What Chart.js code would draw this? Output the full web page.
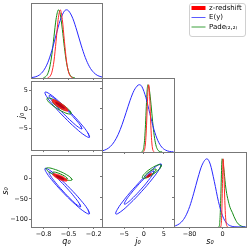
<!DOCTYPE html>
<html>
<head>
<meta charset="utf-8">
<script src="https://cdn.jsdelivr.net/npm/chart.js@4/dist/chart.umd.min.js"></script>
<style>
html, body { margin: 0; padding: 0; background: #fff; }
#wrap { position: relative; width: 249px; height: 249px; overflow: hidden; }
#wrap canvas { position: absolute; }
#legbox { position: absolute; left: 189px; top: 3px; width: 57px; height: 34px; box-sizing: border-box; border: 1px solid #d0d0d0; border-radius: 3px; }
</style>
</head>
<body>
<div id="wrap"><div id="legbox"></div></div>
<script>
// axis limits and ticks
var qRange = [-0.95, -0.10];
var jRange = [-10.6, 7.6];
var sRange = [-118, 57];
var dRange = [0, 1.1];
var qTicks = [-0.8, -0.5, -0.2], qTickLabels = ['\u22120.8', '\u22120.5', '\u22120.2'];
var jTicks = [-5, 0, 5], jTickLabels = ['\u22125', '0', '5'];
var sTicksX = [-80, 0], sTickLabelsX = ['\u221280', '0'];
var sTicksY = [-100, -50, 0], sTickLabelsY = ['\u2212100', '\u221250', '0'];

var names = ['z-redshift', 'E(y)', 'Pade\u208D\u2082,\u2082\u208E'];
var colors = ['#ff0000', 'rgb(90,90,255)', 'rgb(60,160,60)'];

// 1D marginals (normalised to peak 1)
var qRedX = [-0.75, -0.725, -0.7, -0.675, -0.65, -0.625, -0.6, -0.575, -0.55, -0.525, -0.5, -0.475, -0.45];
var qRedY = [0.004, 0.021, 0.085, 0.249, 0.539, 0.857, 1.0, 0.857, 0.539, 0.249, 0.085, 0.021, 0.004];
var qBlueX = [-0.95, -0.9, -0.85, -0.8, -0.75, -0.7, -0.65, -0.6, -0.55, -0.525, -0.5, -0.45, -0.4, -0.35, -0.3, -0.25, -0.2, -0.15, -0.1];
var qBlueY = [0.005, 0.016, 0.044, 0.107, 0.223, 0.404, 0.63, 0.847, 0.982, 1.0, 0.985, 0.875, 0.69, 0.483, 0.3, 0.165, 0.081, 0.035, 0.014];
var qGreenX = [-0.8, -0.775, -0.75, -0.725, -0.7, -0.675, -0.65, -0.62, -0.6, -0.575, -0.55, -0.525, -0.5, -0.475, -0.45, -0.425];
var qGreenY = [0.005, 0.019, 0.061, 0.162, 0.347, 0.607, 0.862, 1.0, 0.936, 0.716, 0.445, 0.225, 0.092, 0.031, 0.009, 0.002];

var jRedX = [-0.2, 0, 0.2, 0.4, 0.6, 0.8, 1.0, 1.2, 1.4, 1.6, 1.8, 2.0, 2.2, 2.4, 2.6];
var jRedY = [0.002, 0.011, 0.044, 0.135, 0.325, 0.607, 0.882, 1.0, 0.882, 0.607, 0.325, 0.135, 0.044, 0.011, 0.002];
var jBlueX = [-10.5, -9.5, -8.5, -7.5, -6.5, -5.5, -4.5, -3.5, -2.5, -1.5, -1.1, -0.5, 0.5, 1.5, 2.5, 3.5, 4.5, 5.5, 6.5, 7.5];
var jBlueY = [0.017, 0.039, 0.081, 0.153, 0.262, 0.411, 0.588, 0.768, 0.914, 0.993, 1.0, 0.97, 0.808, 0.57, 0.34, 0.172, 0.073, 0.027, 0.008, 0.002];
var jGreenX = [-0.6, -0.4, -0.2, 0, 0.2, 0.4, 0.6, 0.8, 1.0, 1.4, 1.8, 2.2, 2.6, 3.0, 3.4, 3.8, 4.2, 4.6];
var jGreenY = [0.002, 0.008, 0.028, 0.085, 0.206, 0.411, 0.674, 0.906, 1.0, 0.915, 0.701, 0.45, 0.242, 0.109, 0.041, 0.013, 0.003, 0.001];

var sRedX = [-6, -4, -2, 0, 1.5, 3, 5, 7, 9, 11, 13];
var sRedY = [0, 0.01, 0.17, 0.7, 1.0, 0.84, 0.47, 0.18, 0.05, 0.01, 0];
var sBlueX = [-118, -110, -100, -90, -80, -70, -60, -50, -38, -30, -20, -10, 0, 10, 20, 30, 40, 57];
var sBlueY = [0.012, 0.029, 0.072, 0.157, 0.298, 0.496, 0.718, 0.906, 1.0, 0.923, 0.667, 0.375, 0.164, 0.056, 0.015, 0.003, 0.0005, 0];
var sGreenX = [-10, -8, -6, -4, -2, -1, 1, 3, 5, 7, 9, 11, 14, 17, 20, 24, 28, 32, 36, 40, 45, 50, 55];
var sGreenY = [0, 0.01, 0.14, 0.49, 0.92, 1.0, 0.96, 0.86, 0.74, 0.62, 0.53, 0.46, 0.38, 0.31, 0.26, 0.21, 0.15, 0.1, 0.06, 0.035, 0.015, 0.005, 0.001];

// 2D contours (68% and 95%)
var cQJBlue95 = [[-0.2505, -7.234], [-0.2684, -6.106], [-0.3526, -3.689], [-0.4807, -0.630], [-0.6182, 2.251], [-0.7282, 4.182], [-0.7815, 4.646], [-0.7636, 3.518], [-0.6794, 1.101], [-0.5513, -1.958], [-0.4138, -4.839], [-0.3038, -6.770]];
var cQJBlue68 = [[-0.3411, -5.014], [-0.3562, -4.220], [-0.4199, -2.464], [-0.5149, -0.216], [-0.6159, 1.920], [-0.6956, 3.373], [-0.7329, 3.752], [-0.7178, 2.958], [-0.6541, 1.202], [-0.5591, -1.046], [-0.4581, -3.182], [-0.3784, -4.635]];
var cQJGreen95 = [[-0.471, -1.0], [-0.4792, -0.397], [-0.5236, 0.578], [-0.5925, 1.663], [-0.6674, 2.568], [-0.728, 3.05], [-0.7584, 2.98], [-0.7502, 2.377], [-0.7058, 1.402], [-0.6369, 0.317], [-0.562, -0.588], [-0.5014, -1.07]];
var cQJGreen68 = [[-0.5242, -0.08], [-0.5288, 0.281], [-0.5548, 0.858], [-0.5953, 1.498], [-0.6394, 2.028], [-0.6752, 2.307], [-0.6932, 2.26], [-0.6886, 1.899], [-0.6626, 1.322], [-0.6221, 0.682], [-0.578, 0.152], [-0.5422, -0.127]];
var cQJRed95 = [[-0.5069, -0.314], [-0.5107, 0.129], [-0.5392, 0.848], [-0.5847, 1.651], [-0.635, 2.322], [-0.6767, 2.683], [-0.6985, 2.634], [-0.6947, 2.192], [-0.6662, 1.472], [-0.6207, 0.669], [-0.5704, -0.002], [-0.5287, -0.363]];
var cQJRed68 = [[-0.55, 0.369], [-0.5524, 0.606], [-0.5682, 0.996], [-0.5934, 1.436], [-0.621, 1.808], [-0.6436, 2.01], [-0.6554, 1.991], [-0.653, 1.754], [-0.6372, 1.364], [-0.612, 0.924], [-0.5844, 0.552], [-0.5618, 0.35]];

var cQSBlue95 = [[-0.2511, -86.14], [-0.2692, -75.56], [-0.3535, -53.03], [-0.4815, -24.58], [-0.6189, 2.155], [-0.7288, 20.02], [-0.7819, 24.22], [-0.7638, 13.64], [-0.6795, -8.895], [-0.5515, -37.34], [-0.4141, -64.08], [-0.3042, -81.94]];
var cQSBlue68 = [[-0.3564, -69.0], [-0.3704, -61.45], [-0.4312, -44.67], [-0.5225, -23.15], [-0.6198, -2.666], [-0.697, 11.3], [-0.7336, 15.0], [-0.7196, 7.445], [-0.6588, -9.334], [-0.5675, -30.85], [-0.4702, -51.33], [-0.393, -65.3]];
var cQSGreen95 = [[-0.4592, -3.64], [-0.4725, 1.408], [-0.5239, 8.854], [-0.5997, 16.7], [-0.6795, 22.83], [-0.7419, 25.63], [-0.7702, 24.32], [-0.7569, 19.27], [-0.7055, 11.83], [-0.6298, 3.98], [-0.5499, -2.154], [-0.4875, -4.948]];
var cQSGreen68 = [[-0.5157, -0.98], [-0.5231, 1.868], [-0.5518, 6.048], [-0.5942, 10.44], [-0.6388, 13.87], [-0.6737, 15.41], [-0.6897, 14.66], [-0.6823, 11.81], [-0.6536, 7.632], [-0.6112, 3.24], [-0.5666, -0.188], [-0.5317, -1.732]];
var cQSRed95 = [[-0.5168, -5.83], [-0.5226, -2.444], [-0.55, 2.186], [-0.5916, 6.82], [-0.6362, 10.22], [-0.672, 11.46], [-0.6892, 10.23], [-0.6834, 6.844], [-0.656, 2.214], [-0.6144, -2.42], [-0.5698, -5.816], [-0.534, -7.064]];
var cQSRed68 = [[-0.5545, -2.515], [-0.5579, -0.65], [-0.5733, 1.924], [-0.5968, 4.52], [-0.6219, 6.44], [-0.6419, 7.17], [-0.6515, 6.515], [-0.6481, 4.65], [-0.6327, 2.076], [-0.6092, -0.52], [-0.5841, -2.44], [-0.5641, -3.17]];

var cJSBlue95 = [[4.366, 29.03], [3.964, 18.05], [2.134, -5.6], [-0.636, -35.62], [-3.602, -63.94], [-5.97, -82.97], [-7.106, -87.63], [-6.704, -76.65], [-4.874, -53.0], [-2.104, -22.98], [0.862, 5.341], [3.23, 24.37]];
var cJSBlue68 = [[2.54, 12.83], [2.27, 5.676], [1.071, -9.964], [-0.737, -29.91], [-2.669, -48.8], [-4.208, -61.58], [-4.94, -64.83], [-4.671, -57.68], [-3.471, -42.04], [-1.663, -22.09], [0.269, -3.196], [1.808, 9.584]];
var cJSGreen95 = [[4.369, 26.67], [4.263, 21.75], [3.55, 14.08], [2.423, 5.72], [1.182, -1.091], [0.159, -4.53], [-0.369, -3.67], [-0.263, 1.25], [0.45, 8.921], [1.577, 17.28], [2.819, 24.09], [3.841, 27.53]];
var cJSGreen68 = [[3.061, 16.73], [2.995, 13.76], [2.56, 9.11], [1.874, 4.031], [1.119, -0.118], [0.499, -2.227], [0.179, -1.728], [0.245, 1.243], [0.68, 5.89], [1.366, 10.97], [2.121, 15.12], [2.741, 17.23]];
var cJSRed95 = [[1.999, 6.9], [1.983, 5.263], [1.785, 2.753], [1.457, 0.04], [1.086, -2.148], [0.774, -3.223], [0.601, -2.9], [0.617, -1.263], [0.815, 1.247], [1.143, 3.96], [1.514, 6.148], [1.826, 7.223]];
var cJSRed68 = [[1.691, 4.744], [1.681, 3.855], [1.568, 2.469], [1.384, 0.957], [1.177, -0.275], [1.003, -0.898], [0.909, -0.744], [0.919, 0.145], [1.032, 1.531], [1.216, 3.043], [1.423, 4.275], [1.597, 4.898]];

Chart.defaults.font.family = '"DejaVu Sans", sans-serif';
Chart.defaults.color = '#000';
var frameColor = '#777';
var blue = 'rgb(40,40,255)', green = 'rgb(20,140,20)', redLine = 'rgb(255,40,40)';
var red95 = 'rgba(255,25,25,0.9)', red68 = 'rgba(175,0,20,0.9)';
var wrap = document.getElementById('wrap');

function pts(xs, ys) {
    return xs.map(function (x, i) { return {x: x, y: ys[i]}; });
}
function ring(c) {
    // close the loop (repeat 2 points so the spline joins smoothly)
    return c.concat([c[0], c[1]]).map(function (p) { return {x: p[0], y: p[1]}; });
}
function line1d(xs, ys, color) {
    return {data: pts(xs, ys), showLine: true, borderColor: color, borderWidth: 1, pointRadius: 0, cubicInterpolationMode: 'monotone', fill: false};
}
function cLine(c, color) {
    return {data: ring(c), showLine: true, borderColor: color, borderWidth: 1, pointRadius: 0, tension: 0.45, fill: false};
}
function cFill(c, color) {
    return {data: ring(c), showLine: true, borderColor: color, backgroundColor: color, borderWidth: 0.5, pointRadius: 0, tension: 0.45, fill: 'shape'};
}

function axis(o) {
    var a = {
        type: 'linear', axis: o.axis, position: o.pos, min: o.range[0], max: o.range[1],
        afterFit: function (s) { if (o.axis === 'x') s.height = o.size; else s.width = o.size; },
        ticks: {display: !!o.labels, autoSkip: false, maxRotation: 0, padding: 1, color: '#111', font: {size: 6.5},
            callback: function (v, i) { return o.labels ? o.labels[i] : ''; }},
        grid: {display: !!o.ticks, drawOnChartArea: false, drawTicks: true, tickLength: 2, color: frameColor, lineWidth: 1},
        border: {display: false},
        title: {display: !!o.title, text: o.title || '', color: '#000', font: {size: 8, style: 'italic'}, padding: o.tpad || 0}
    };
    if (o.ticks) {
        a.afterBuildTicks = function (s) { s.ticks = o.ticks.map(function (v) { return {value: v}; }); };
    }
    return a;
}

var framePlugin = {
    id: 'frame',
    afterDatasetsDraw: function (chart) {
        var a = chart.chartArea, ctx = chart.ctx;
        ctx.save();
        ctx.strokeStyle = frameColor;
        ctx.lineWidth = 1;
        ctx.strokeRect(Math.round(a.left) + 0.5, Math.round(a.top) + 0.5, Math.round(a.right - a.left), Math.round(a.bottom - a.top));
        ctx.restore();
    }
};

function panel(box, scales, datasets) {
    var cv = document.createElement('canvas');
    var w = box.w + box.L + 2, h = box.h + 2 + box.B;
    cv.width = w; cv.height = h;
    cv.style.left = (box.l - box.L) + 'px';
    cv.style.top = (box.t - 2) + 'px';
    cv.style.width = w + 'px';
    cv.style.height = h + 'px';
    wrap.appendChild(cv);
    new Chart(cv, {
        type: 'scatter',
        data: {datasets: datasets},
        options: {
            responsive: false, animation: false, devicePixelRatio: 1, events: [],
            layout: {padding: {top: 2, right: 2, left: 0, bottom: 0}},
            plugins: {legend: {display: false}, tooltip: {enabled: false}},
            scales: scales
        },
        plugins: [framePlugin]
    });
}

// row 0
panel({l: 31, t: 3, w: 71, h: 75, L: 0, B: 3}, {
    x: axis({axis: 'x', pos: 'bottom', range: qRange, ticks: qTicks, size: 3}),
    y: axis({axis: 'y', pos: 'left', range: dRange, size: 0})
}, [line1d(qRedX, qRedY, redLine), line1d(qBlueX, qBlueY, blue), line1d(qGreenX, qGreenY, green)]);

// row 1
panel({l: 31, t: 78, w: 71, h: 74, L: 31, B: 3}, {
    x: axis({axis: 'x', pos: 'bottom', range: qRange, ticks: qTicks, size: 3}),
    y: axis({axis: 'y', pos: 'left', range: jRange, ticks: jTicks, labels: jTickLabels, size: 31, title: 'j\u2080', tpad: {top: 17.5}})
}, [cFill(cQJRed68, red68), cFill(cQJRed95, red95), cLine(cQJGreen68, green), cLine(cQJGreen95, green),
    cLine(cQJBlue68, blue), cLine(cQJBlue95, blue)]);

panel({l: 102, t: 78, w: 72, h: 74, L: 3, B: 3}, {
    x: axis({axis: 'x', pos: 'bottom', range: jRange, ticks: jTicks, size: 3}),
    y: axis({axis: 'y', pos: 'left', range: dRange, size: 0}),
    yt: axis({axis: 'y', pos: 'left', range: jRange, ticks: jTicks, size: 3})
}, [line1d(jRedX, jRedY, redLine), line1d(jBlueX, jBlueY, blue), line1d(jGreenX, jGreenY, green)]);

// row 2
panel({l: 31, t: 152, w: 71, h: 75, L: 31, B: 22}, {
    x: axis({axis: 'x', pos: 'bottom', range: qRange, ticks: qTicks, labels: qTickLabels, size: 22, title: 'q\u2080', tpad: {bottom: 2}}),
    y: axis({axis: 'y', pos: 'left', range: sRange, ticks: sTicksY, labels: sTickLabelsY, size: 31, title: 's\u2080', tpad: {top: 1.5}})
}, [cFill(cQSRed68, red68), cFill(cQSRed95, red95), cLine(cQSGreen68, green), cLine(cQSGreen95, green),
    cLine(cQSBlue68, blue), cLine(cQSBlue95, blue)]);

panel({l: 102, t: 152, w: 72, h: 75, L: 3, B: 22}, {
    x: axis({axis: 'x', pos: 'bottom', range: jRange, ticks: jTicks, labels: jTickLabels, size: 22, title: 'j\u2080', tpad: {bottom: 2}}),
    y: axis({axis: 'y', pos: 'left', range: sRange, ticks: sTicksY, size: 3})
}, [cFill(cJSRed68, red68), cFill(cJSRed95, red95), cLine(cJSGreen68, green), cLine(cJSGreen95, green),
    cLine(cJSBlue68, blue), cLine(cJSBlue95, blue)]);

panel({l: 174, t: 152, w: 72, h: 75, L: 3, B: 22}, {
    x: axis({axis: 'x', pos: 'bottom', range: sRange, ticks: sTicksX, labels: sTickLabelsX, size: 22, title: 's\u2080', tpad: {bottom: 2}}),
    y: axis({axis: 'y', pos: 'left', range: dRange, size: 0}),
    yt: axis({axis: 'y', pos: 'left', range: sRange, ticks: sTicksY, size: 3})
}, [line1d(sRedX, sRedY, redLine), line1d(sBlueX, sBlueY, blue), line1d(sGreenX, sGreenY, green)]);

// legend
var lc = document.createElement('canvas');
lc.width = 58; lc.height = 60;
lc.style.left = '189px'; lc.style.top = '2px';
lc.style.width = '58px'; lc.style.height = '60px';
wrap.appendChild(lc);
new Chart(lc, {
    type: 'scatter',
    data: {datasets: []},
    options: {
        responsive: false, animation: false, devicePixelRatio: 1, events: [],
        layout: {padding: 0},
        scales: {x: {display: false}, y: {display: false}},
        plugins: {
            tooltip: {enabled: false},
            legend: {
                display: true, position: 'top', align: 'start', maxHeight: 60,
                labels: {
                    usePointStyle: true, pointStyleWidth: 14, boxHeight: 4, padding: 2.5,
                    color: '#000', font: {size: 7},
                    generateLabels: function () {
                        return names.map(function (n, i) {
                            return {text: n, fillStyle: colors[i], strokeStyle: colors[i], lineWidth: i === 0 ? 0 : 1,
                                pointStyle: i === 0 ? 'rect' : 'line', hidden: false, datasetIndex: i};
                        });
                    }
                }
            }
        }
    }
});
</script>
</body>
</html>
